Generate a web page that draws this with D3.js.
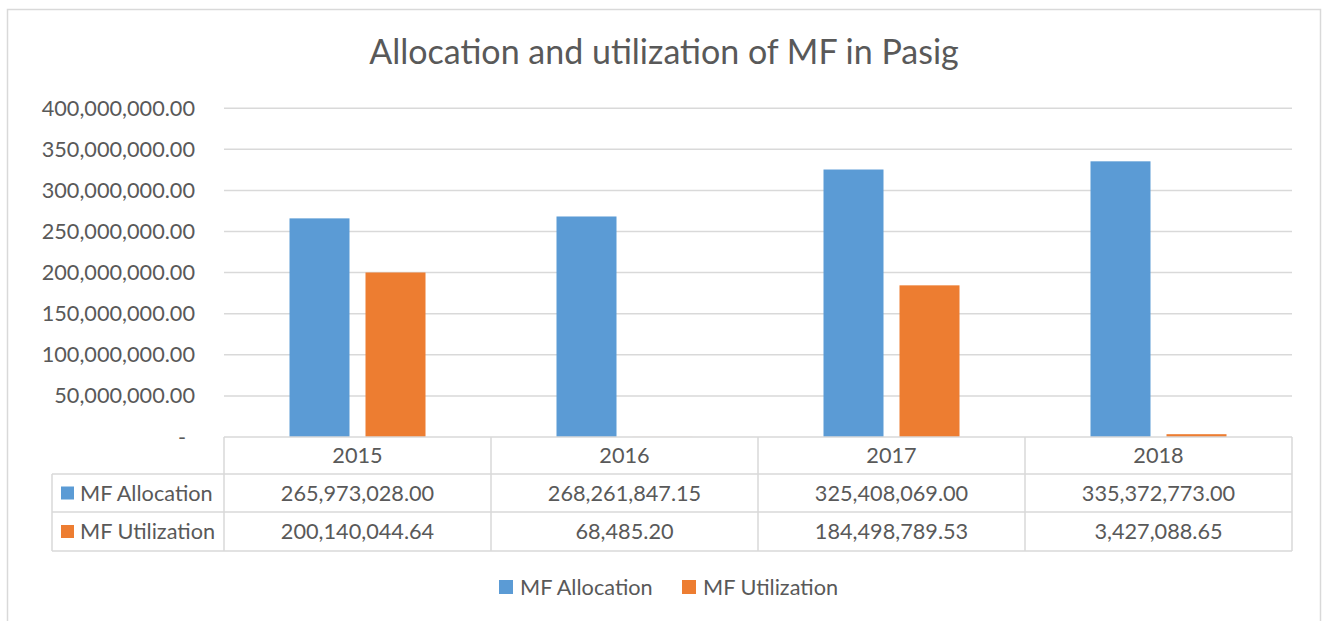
<!DOCTYPE html>
<html>
<head>
<meta charset="utf-8">
<script src="https://cdn.jsdelivr.net/npm/d3@7"></script>
<style>
  html, body { margin: 0; padding: 0; background: #fff; }
  svg { display: block; }
  text { font-family: Lato, "Open Sans", sans-serif; fill: #595959; }
</style>
</head>
<body>
<svg id="chart" width="1325" height="621"></svg>
<script>
const title = "Allocation and utilization of MF in Pasig";
const years = ["2015", "2016", "2017", "2018"];
const seriesNames = ["MF Allocation", "MF Utilization"];
const allocation = [265973028.00, 268261847.15, 325408069.00, 335372773.00];
const utilization = [200140044.64, 68485.20, 184498789.53, 3427088.65];
const yTicks = [0, 50000000, 100000000, 150000000, 200000000, 250000000, 300000000, 350000000, 400000000];
const colors = ["#5b9bd5", "#ed7d31"];

(function () {
const seriesValues = [allocation, utilization];
const svg = d3.select("#chart");
const grid = "#d9d9d9";
const fs = "21.7px";

// outer frame
svg.append("rect").attr("x", 7.5).attr("y", 9.5).attr("width", 1313).attr("height", 640)
  .attr("fill", "none").attr("stroke", grid).attr("stroke-width", 1.5);

// title
svg.append("text").attr("x", 664).attr("y", 64).attr("text-anchor", "middle")
  .style("font-size", "34px").text(title);

const pLeft = 224, pRight = 1292, pTop = 108.2, pBottom = 437;
const y = d3.scaleLinear().domain([0, 400000000]).range([pBottom, pTop]);
const x0 = d3.scaleBand().domain(years).range([pLeft, pRight]).padding(0);
const groupW = 136;
const x1 = d3.scaleBand().domain(seriesNames).range([0, groupW]).paddingInner(0.2105).paddingOuter(0);

// gridlines
svg.append("g").selectAll("line").data(yTicks.filter(d => d > 0)).join("line")
  .attr("x1", pLeft).attr("x2", pRight)
  .attr("y1", d => y(d)).attr("y2", d => y(d))
  .attr("stroke", grid).attr("stroke-width", 1.5);

// y axis labels
const fmt = d3.format(",.2f");
svg.append("g").selectAll("text").data(yTicks).join("text")
  .attr("x", d => d === 0 ? 186 : 195)
  .attr("y", d => y(d))
  .attr("dy", "0.35em")
  .attr("text-anchor", "end")
  .style("font-size", fs)
  .text(d => d === 0 ? "-" : fmt(d));

// bars
const groups = svg.append("g").selectAll("g").data(years).join("g")
  .attr("transform", d => `translate(${x0(d) + (x0.bandwidth() - groupW) / 2},0)`);
groups.selectAll("rect").data((d, i) => seriesNames.map((s, j) => ({ s, j, v: seriesValues[j][i] })))
  .join("rect")
  .attr("x", d => x1(d.s))
  .attr("width", x1.bandwidth())
  .attr("y", d => y(d.v))
  .attr("height", d => pBottom - y(d.v))
  .attr("fill", d => colors[d.j]);

// data table
const rowY = [437, 474, 512, 551];
const tableLeft = 52;
const tg = svg.append("g").attr("stroke", grid).attr("stroke-width", 1.5);
tg.append("line").attr("x1", pLeft).attr("x2", pRight).attr("y1", rowY[0]).attr("y2", rowY[0]);
for (let k = 1; k < rowY.length; k++) {
  tg.append("line").attr("x1", tableLeft).attr("x2", pRight).attr("y1", rowY[k]).attr("y2", rowY[k]);
}
tg.append("line").attr("x1", tableLeft).attr("x2", tableLeft).attr("y1", rowY[1]).attr("y2", rowY[3]);
const colEdges = years.map(d => x0(d)).concat([pRight]);
colEdges.forEach(xe => {
  tg.append("line").attr("x1", xe).attr("x2", xe).attr("y1", rowY[0]).attr("y2", rowY[3]);
});

// header text
svg.append("g").selectAll("text").data(years).join("text")
  .attr("x", d => x0(d) + x0.bandwidth() / 2)
  .attr("y", (rowY[0] + rowY[1]) / 2).attr("dy", "0.35em")
  .attr("text-anchor", "middle").style("font-size", fs).text(d => d);

// rows
seriesNames.forEach((s, j) => {
  const cy = (rowY[j + 1] + rowY[j + 2]) / 2;
  svg.append("rect").attr("x", 61).attr("y", cy - 6.5).attr("width", 13).attr("height", 13).attr("fill", colors[j]);
  svg.append("text").attr("x", 80).attr("y", cy).attr("dy", "0.35em").style("font-size", fs).text(s);
  svg.append("g").selectAll("text").data(years).join("text")
    .attr("x", d => x0(d) + x0.bandwidth() / 2)
    .attr("y", cy).attr("dy", "0.35em")
    .attr("text-anchor", "middle").style("font-size", fs)
    .text((d, i) => fmt(seriesValues[j][i]));
});

// legend
const legendX = [499, 682];
seriesNames.forEach((s, j) => {
  svg.append("rect").attr("x", legendX[j]).attr("y", 580).attr("width", 14).attr("height", 14).attr("fill", colors[j]);
  svg.append("text").attr("x", legendX[j] + 21).attr("y", 587).attr("dy", "0.35em").style("font-size", fs).text(s);
});
})();
</script>
</body>
</html>
